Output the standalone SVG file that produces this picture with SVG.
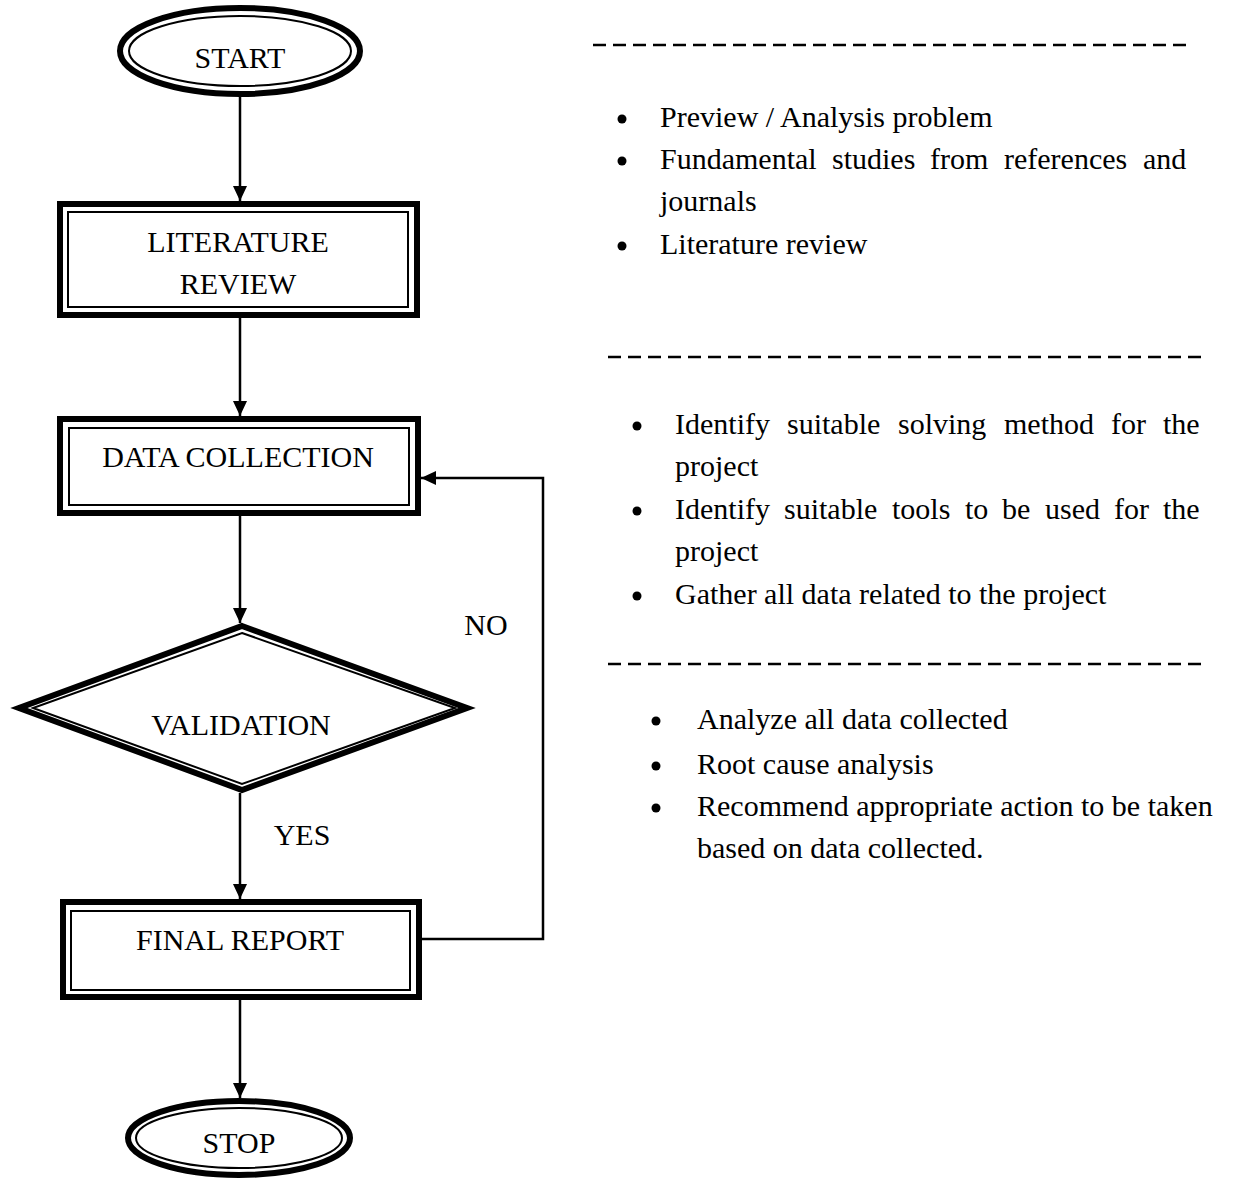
<svg xmlns="http://www.w3.org/2000/svg" width="1242" height="1182" viewBox="0 0 1242 1182">
<style>
text{font-family:"Liberation Serif","Times New Roman",serif;font-size:30px;fill:#000}
.c{text-anchor:middle}
.thick{fill:#fff;stroke:#000;stroke-width:6;stroke-linejoin:miter;stroke-miterlimit:10}
.thin{fill:none;stroke:#000;stroke-width:2}
.conn{fill:none;stroke:#000;stroke-width:2.5}
.dash{stroke:#000;stroke-width:2.5;stroke-dasharray:13 7}
.bul{fill:#000}
</style>
<defs>
<marker id="arr" markerUnits="userSpaceOnUse" markerWidth="16" markerHeight="14" refX="15" refY="7" orient="auto">
<path d="M0,0 L15,7 L0,14 z" fill="#000"/>
</marker>
</defs>
<rect x="0" y="0" width="1242" height="1182" fill="#fff"/>

<g id="connectors">
<line class="conn" x1="240" y1="97" x2="240" y2="201" marker-end="url(#arr)"/>
<line class="conn" x1="240" y1="318" x2="240" y2="416" marker-end="url(#arr)"/>
<line class="conn" x1="240" y1="516" x2="240" y2="623" marker-end="url(#arr)"/>
<line class="conn" x1="240" y1="793" x2="240" y2="899" marker-end="url(#arr)"/>
<line class="conn" x1="240" y1="1000" x2="240" y2="1098" marker-end="url(#arr)"/>
<path class="conn" d="M422,939 H543 V478 H421" marker-end="url(#arr)"/>
<text x="486" y="635" class="c">NO</text>
<text x="302" y="845" class="c">YES</text>
</g>

<g id="start">
<ellipse class="thick" cx="240" cy="51" rx="120" ry="43"/>
<ellipse class="thin" cx="240" cy="51" rx="111" ry="35"/>
<text x="240" y="68" class="c">START</text>
</g>

<g id="literature-review">
<rect class="thick" x="60" y="204" width="357" height="111"/>
<rect class="thin" x="68" y="212" width="340" height="95"/>
<text x="238" y="252" class="c">LITERATURE</text>
<text x="238" y="294" class="c">REVIEW</text>
</g>

<g id="data-collection">
<rect class="thick" x="60" y="419" width="358" height="94"/>
<rect class="thin" x="69" y="428" width="340" height="77"/>
<text x="238" y="467" class="c">DATA COLLECTION</text>
</g>

<g id="validation">
<polygon class="thick" points="242,626 467,708 242,790 19,708"/>
<polygon class="thin" points="242,633 455,708 242,784 33,708"/>
<text x="241" y="735" class="c">VALIDATION</text>
</g>

<g id="final-report">
<rect class="thick" x="63" y="902" width="356" height="95"/>
<rect class="thin" x="71" y="911" width="339" height="79"/>
<text x="240" y="950" class="c">FINAL REPORT</text>
</g>

<g id="stop">
<ellipse class="thick" cx="239" cy="1138" rx="111" ry="37"/>
<ellipse class="thin" cx="239" cy="1138" rx="103" ry="30"/>
<text x="239" y="1153" class="c">STOP</text>
</g>

<g id="notes-literature">
<line class="dash" x1="593" y1="45" x2="1193" y2="45"/>
<circle class="bul" cx="622" cy="119" r="4.5"/>
<circle class="bul" cx="622" cy="161" r="4.5"/>
<circle class="bul" cx="622" cy="246" r="4.5"/>
<text x="660" y="127">Preview / Analysis problem</text>
<text y="169"><tspan x="660">Fundamental</tspan><tspan x="832">studies</tspan><tspan x="930">from</tspan><tspan x="1004">references</tspan><tspan x="1143">and</tspan></text>
<text x="660" y="211">journals</text>
<text x="660" y="254">Literature review</text>
</g>

<g id="notes-data">
<line class="dash" x1="608" y1="357" x2="1208" y2="357"/>
<circle class="bul" cx="637" cy="426" r="4.5"/>
<circle class="bul" cx="637" cy="511" r="4.5"/>
<circle class="bul" cx="637" cy="596" r="4.5"/>
<text y="434"><tspan x="675">Identify</tspan><tspan x="787">suitable</tspan><tspan x="898">solving</tspan><tspan x="1004">method</tspan><tspan x="1111">for</tspan><tspan x="1163">the</tspan></text>
<text x="675" y="476">project</text>
<text y="519"><tspan x="675">Identify</tspan><tspan x="784">suitable</tspan><tspan x="892">tools</tspan><tspan x="965">to</tspan><tspan x="1002">be</tspan><tspan x="1045">used</tspan><tspan x="1114">for</tspan><tspan x="1163">the</tspan></text>
<text x="675" y="561">project</text>
<text x="675" y="604">Gather all data related to the project</text>
</g>

<g id="notes-analysis">
<line class="dash" x1="608" y1="664" x2="1208" y2="664"/>
<circle class="bul" cx="656" cy="721" r="4.5"/>
<circle class="bul" cx="656" cy="766" r="4.5"/>
<circle class="bul" cx="656" cy="808" r="4.5"/>
<text x="697" y="729">Analyze all data collected</text>
<text x="697" y="774">Root cause analysis</text>
<text x="697" y="816">Recommend appropriate action to be taken</text>
<text x="697" y="858">based on data collected.</text>
</g>
</svg>
